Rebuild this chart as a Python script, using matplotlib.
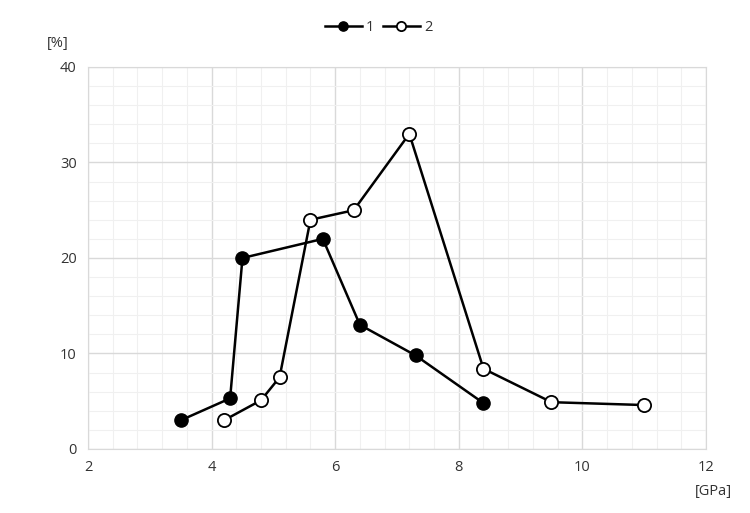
import numpy as np
import matplotlib.pyplot as plt
from matplotlib.ticker import MultipleLocator

# series 1 (filled markers)
x1 = [3.5, 4.3, 4.5, 5.8, 6.4, 7.3, 8.4]
y1 = [3.0, 5.3, 20.0, 22.0, 13.0, 9.8, 4.8]

# series 2 (open markers)
x2 = [4.2, 4.8, 5.1, 5.6, 6.3, 7.2, 8.4, 9.5, 11.0]
y2 = [3.0, 5.1, 7.5, 24.0, 25.0, 33.0, 8.4, 4.9, 4.6]

labels = ["1", "2"]

plt.rcParams["font.family"] = ["Open Sans", "DejaVu Sans"]
txt = "#333333"

fig = plt.figure(figsize=(7.5, 5.13), dpi=100)
ax = fig.add_axes([0.1173, 0.1248, 0.824, 0.7446])

ax.plot(x1, y1, color="black", lw=1.8, marker="o", ms=9.5,
        mfc="black", mec="black", label=labels[0], zorder=3)
ax.plot(x2, y2, color="black", lw=1.8, marker="o", ms=9.5,
        mfc="white", mec="black", mew=1.3, label=labels[1], zorder=3)

ax.set_xlim(2, 12)
ax.set_ylim(0, 40)
ax.xaxis.set_major_locator(MultipleLocator(2))
ax.xaxis.set_minor_locator(MultipleLocator(0.4))
ax.yaxis.set_major_locator(MultipleLocator(10))
ax.yaxis.set_minor_locator(MultipleLocator(2))
ax.grid(which="major", color="#d9d9d9", lw=1.0)
ax.grid(which="minor", color="#f0f0f0", lw=0.8)
ax.set_axisbelow(True)

for s in ax.spines.values():
    s.set_color("#d9d9d9")
ax.tick_params(which="both", length=0, labelsize=10.5, colors=txt, pad=8)

fig.text(0.077, 0.916, "[%]", fontsize=10.5, color=txt, ha="center", va="center")
fig.text(0.951, 0.041, "[GPa]", fontsize=10.5, color=txt, ha="center", va="center")

fig.legend(loc="center", bbox_to_anchor=(0.505, 0.947), ncol=2, frameon=False,
           fontsize=10.5, handlelength=2.5, columnspacing=0.6, handletextpad=0.3,
           markerscale=0.7, labelcolor=txt)

fig.savefig("out.png", dpi=100)
